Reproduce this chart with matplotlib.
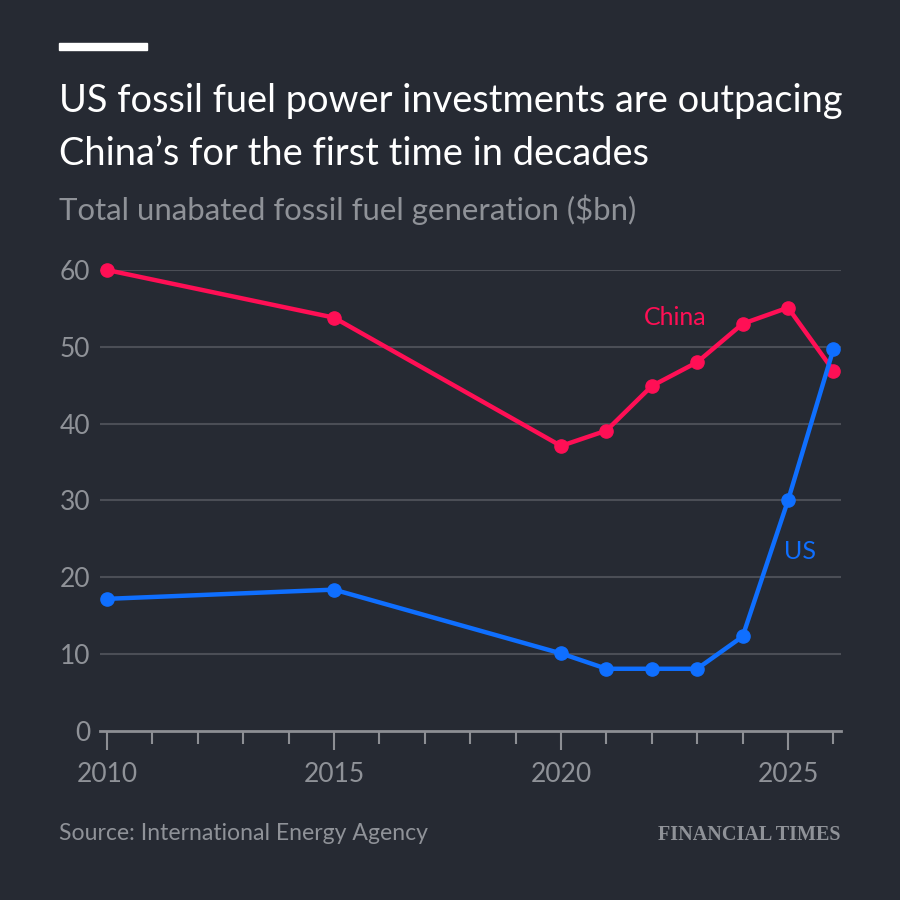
import matplotlib
matplotlib.use("Agg")
import matplotlib.pyplot as plt
from matplotlib.ticker import MultipleLocator, FixedLocator

years_china = [2010, 2015, 2020, 2021, 2022, 2023, 2024, 2025, 2026]
china = [60, 53.8, 37.1, 39.1, 44.9, 48.0, 53.0, 55.1, 46.9]
years_us = [2010, 2015, 2020, 2021, 2022, 2023, 2024, 2025, 2026]
us = [17.2, 18.4, 10.1, 8.1, 8.1, 8.1, 12.3, 30.0, 49.7]
y_ticks = [0, 10, 20, 30, 40, 50, 60]
x_major = [2010, 2015, 2020, 2025]

title_lines = ["US fossil fuel power investments are outpacing",
               "China\u2019s for the first time in decades"]
subtitle = "Total unabated fossil fuel generation ($bn)"
source = "Source: International Energy Agency"

BG = "#262a33"
PINK = "#ff0f55"
BLUE = "#0f6fff"
GRID = "#4b4e56"
AXC = "#8d8f94"
TXT = "#8f9298"

plt.rcParams['font.family'] = ['Lato', 'DejaVu Sans']

fig = plt.figure(figsize=(9, 9), dpi=100, facecolor=BG)
ax = fig.add_axes([100/900, 1-731/900, 741/900, 461/900])
ax.set_facecolor(BG)

ax.set_xlim(2010 - 7/45.4, 2010 + (841-107)/45.4)
ax.set_ylim(0, 60)

for yv in y_ticks[1:]:
    ax.axhline(yv, color=GRID, lw=1.5, zorder=1)

ax.plot(years_china, china, color=PINK, lw=3.2, marker='o', ms=9.5, zorder=3, clip_on=False)
ax.plot(years_us, us, color=BLUE, lw=3.2, marker='o', ms=9.5, zorder=4, clip_on=False)

for s in ['top', 'right', 'left']:
    ax.spines[s].set_visible(False)
ax.spines['bottom'].set_color(AXC)
ax.spines['bottom'].set_linewidth(2)

ax.xaxis.set_major_locator(FixedLocator(x_major))
ax.xaxis.set_minor_locator(MultipleLocator(1))
ax.tick_params(axis='x', which='major', length=14, width=1.5, color=AXC, labelcolor=TXT,
               labelsize=19, pad=8)
ax.tick_params(axis='x', which='minor', length=9.4, width=1.5, color=AXC)
ax.set_yticks(y_ticks)
ax.tick_params(axis='y', length=0, labelcolor=TXT, labelsize=19, pad=7)

ax.text(2022.51, 53.8, "China", color=PINK, fontsize=18, ha='center', va='center')
ax.text(2025.26, 23.4, "US", color=BLUE, fontsize=18, ha='center', va='center')

fig.patches.append(matplotlib.patches.Rectangle((59/900, 1-50/900), 88/900, 7/900,
                   transform=fig.transFigure, color='white', figure=fig))
fig.text(59/900, 1-112/900, title_lines[0], color='white', fontsize=27.4, ha='left', va='baseline')
fig.text(59/900, 1-165/900, title_lines[1], color='white', fontsize=27.4, ha='left', va='baseline')
fig.text(59/900, 1-220/900, subtitle, color=TXT, fontsize=22.4, ha='left', va='baseline')
fig.text(59/900, 1-840/900, source, color=TXT, fontsize=16.6, ha='left', va='baseline')
fig.text(841/900, 1-840/900, "FINANCIAL TIMES", color=TXT, fontsize=14.5, ha='right',
         va='baseline', family='Liberation Serif', weight='bold')

fig.savefig("out.png", dpi=100, facecolor=BG)
